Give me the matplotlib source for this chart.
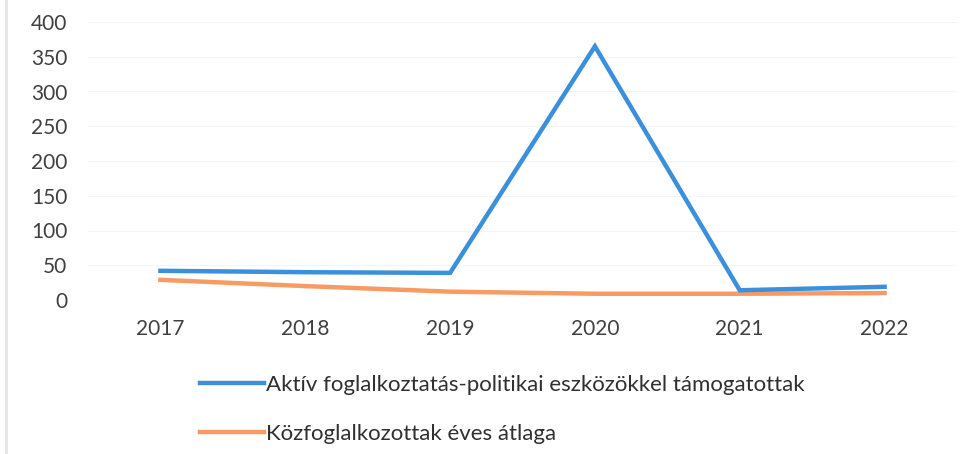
import matplotlib
matplotlib.use("Agg")
import matplotlib.pyplot as plt
from matplotlib.lines import Line2D

years = ["2017", "2018", "2019", "2020", "2021", "2022"]
aktiv = [42, 40, 39, 365, 14, 19]
kozfog = [29, 20, 12, 9, 9, 10]
labels = ["Aktív foglalkoztatás-politikai eszközökkel támogatottak",
          "Közfoglalkozottak éves átlaga"]
yticks = [0, 50, 100, 150, 200, 250, 300, 350, 400]

plt.rcParams['font.family'] = ['Lato', 'DejaVu Sans']
blue = "#3B90DC"
orange = "#F79B63"

fig = plt.figure(figsize=(9.71, 4.54), dpi=100)
W, H = 971, 454
left, right = 88, 957
top, bottom = 22, 300
ax = fig.add_axes([left / W, 1 - bottom / H, (right - left) / W, (bottom - top) / H])

x = list(range(len(years)))
ax.plot(x, aktiv, color=blue, lw=3.2, solid_joinstyle='miter', zorder=3)
ax.plot(x, kozfog, color=orange, lw=3.2, solid_joinstyle='miter', zorder=2)

ax.set_xlim(-0.5, len(years) - 0.5)
ax.set_ylim(0, 400)
ax.set_yticks(yticks)
ax.set_yticklabels([str(v) for v in yticks])
ax.set_xticks(x)
ax.set_xticklabels(years)
for s in ax.spines.values():
    s.set_visible(False)
ax.grid(axis='y', color='#f4f4f4', lw=0.8)
ax.set_axisbelow(True)
ax.tick_params(axis='both', length=0, labelsize=15, labelcolor='#404040')
ax.tick_params(axis='y', pad=15)
ax.tick_params(axis='x', pad=14)

# faint left border of the scan
fig.add_artist(Line2D([6 / W, 6 / W], [0, 1], color='#e6e6e6', lw=2))

handles = [Line2D([], [], color=blue, lw=3.2), Line2D([], [], color=orange, lw=3.2)]
fig.legend(handles, labels, loc='upper left', bbox_to_anchor=(200 / W, 1 - 375 / H),
           frameon=False, fontsize=16, handlelength=2.9, handletextpad=0.08,
           labelspacing=1.3, labelcolor='#303030', borderpad=0, borderaxespad=0)

fig.savefig("out.png", dpi=100)
